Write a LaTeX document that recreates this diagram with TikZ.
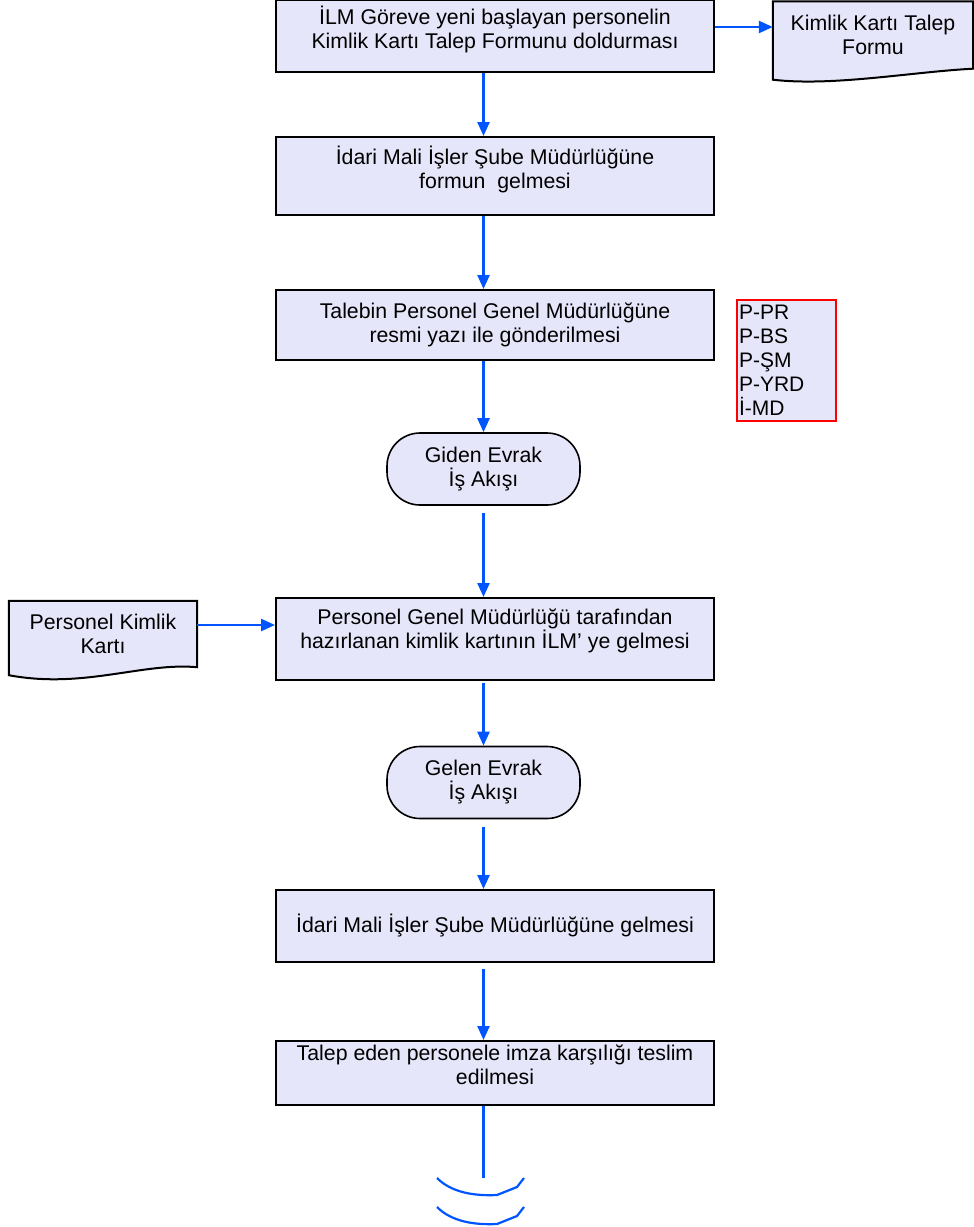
\documentclass[tikz,border=0pt]{standalone}
\usepackage{fontspec}
\setmainfont{Liberation Sans}
\usetikzlibrary{positioning}
\usetikzlibrary{arrows.meta}
\usetikzlibrary{calc}

\definecolor{boxfill}{RGB}{230,230,250}
\definecolor{flowblue}{RGB}{0,85,255}

\begin{document}
\begin{tikzpicture}[x=1pt,y=-1pt,
        every node/.style={font=\fontsize{21.3}{24}\selectfont},
        process/.style={draw=black, line width=2pt, fill=boxfill, minimum width=438pt, align=center, inner sep=0pt},
        terminal/.style={draw=black, line width=1.6pt, fill=boxfill, rounded corners=33pt, minimum width=193pt, minimum height=72pt, align=center},
        docbox/.style={align=center, inner sep=0pt},
        docline/.style={draw=black, line width=2pt, fill=boxfill},
        codelist/.style={draw=red, line width=1.5pt, fill=boxfill, align=left, text width=95pt, inner sep=2pt, minimum height=121pt, font=\fontsize{21}{24}\selectfont},
        flow/.style={draw=flowblue, line width=2.4pt, -{Triangle[length=14pt,width=12pt]}},
        flowline/.style={draw=flowblue, line width=2.2pt}
    ]
        \useasboundingbox (0,0) rectangle (974,1227);

        % main column
        \node[process, minimum height=72pt] (ilm) at (495,36) {İLM Göreve yeni başlayan personelin\\Kimlik Kartı Talep Formunu doldurması\\[-6pt]};
        \node[process, minimum height=78pt] (idari) at (495,176) {İdari Mali İşler Şube Müdürlüğüne\\formun~ gelmesi\\[-6pt]};
        \node[process, minimum height=70pt] (talep) at (495,325) {Talebin Personel Genel Müdürlüğüne\\resmi yazı ile gönderilmesi};
        \node[terminal] (giden) at (483.5,469) {Giden Evrak\\İş Akışı};
        \node[process, minimum height=82pt] (hazir) at (495,639) {Personel Genel Müdürlüğü tarafından\\hazırlanan kimlik kartının İLM’ ye gelmesi\\[-4pt]};
        \node[terminal] (gelen) at (483.5,782.5) {Gelen Evrak\\İş Akışı};
        \node[process, minimum height=72pt] (sube) at (495,926) {İdari Mali İşler Şube Müdürlüğüne gelmesi};
        \node[process, minimum height=64pt] (teslim) at (495,1073) {Talep eden personele imza karşılığı teslim\\edilmesi\\[-8pt]};

        % documents
        \node[docbox, minimum width=200pt, minimum height=67pt] (form) at (873,35) {};
        \draw[docline] (form.north west) -- (form.north east) -- ($(form.south east)+(0,0)$)
            .. controls ($(form.south east)+(-60,3)$) and ($(form.south west)+(60,18)$) .. ($(form.south west)+(0,11)$) -- cycle;
        \node[docbox] at (form.center) {Kimlik Kartı Talep\\Formu};

        \node[docbox, minimum width=188pt, minimum height=66pt] (kart) at (103,634) {};
        \draw[docline] (kart.north west) -- (kart.north east) -- ($(kart.south east)+(0,0)$)
            .. controls ($(kart.south east)+(-55,-5)$) and ($(kart.south west)+(75,22)$) .. ($(kart.south west)+(0,8)$) -- cycle;
        \node[docbox] at (kart.center) {Personel Kimlik\\Kartı};

        \node[codelist] (codes) at (786.5,360.5) {P-PR\\P-BS\\P-ŞM\\P-YRD\\İ-MD};

        % connectors
        \draw[flow] ([yshift=9pt]ilm.east) -- ([yshift=9pt]ilm.east -| form.west);
        \draw[flow] (ilm.south -| giden.south) -- (idari.north -| giden.south);
        \draw[flow] (idari.south -| giden.south) -- (talep.north -| giden.south);
        \draw[flow] (talep.south -| giden.south) -- (giden.north);
        \draw[flow, shorten <=7pt] (giden.south) -- (hazir.north -| giden.south);
        \draw[flow] ([yshift=9pt]kart.east) -- ([yshift=9pt]kart.east -| hazir.west);
        \draw[flow, shorten <=2pt] (hazir.south -| gelen.north) -- (gelen.north);
        \draw[flow, shorten <=8pt] (gelen.south) -- (sube.north -| gelen.south);
        \draw[flow, shorten <=6pt] (sube.south -| gelen.south) -- (teslim.north -| gelen.south);

        % page connector
        \coordinate (flowend) at (483.5,1178);
        \draw[flowline] (teslim.south -| flowend) -- (flowend);
        \foreach \dy in {0,29} {
            \draw[flowline] (437,1178+\dy) .. controls (452,1193+\dy) and (475,1196+\dy) .. (497,1195+\dy) -- (517,1187+\dy) -- (524,1178+\dy);
        }
    \end{tikzpicture}
\end{document}
